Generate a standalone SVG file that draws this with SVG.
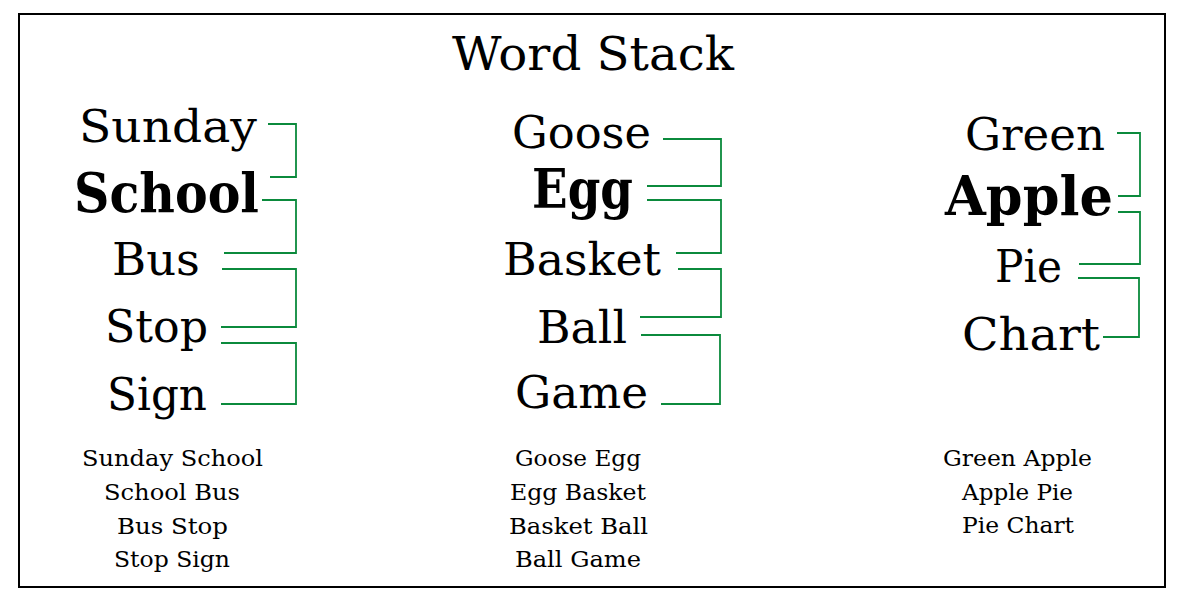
<svg xmlns="http://www.w3.org/2000/svg" width="1185" height="601" viewBox="0 0 1185 601">
<style>
text{font-family:"DejaVu Serif","Liberation Serif",serif;fill:#000}
.t{font-size:47px}
.w{font-size:45px}
.b{font-size:55px;font-weight:bold}
.s{font-size:22px}
.c{fill:none;stroke:#0b8a3c;stroke-width:1.8}
</style>
<rect x="19" y="14" width="1146" height="573" fill="#fff" stroke="#000" stroke-width="2"/>
<text class="t" x="452" y="70" textLength="282" lengthAdjust="spacingAndGlyphs">Word Stack</text>
<g id="col1">
<text class="w" x="79" y="142" textLength="178" lengthAdjust="spacingAndGlyphs">Sunday</text>
<text class="b" x="74" y="212" textLength="185" lengthAdjust="spacingAndGlyphs">School</text>
<text class="w" x="112" y="275" textLength="88" lengthAdjust="spacingAndGlyphs">Bus</text>
<text class="w" x="105" y="342" textLength="103" lengthAdjust="spacingAndGlyphs">Stop</text>
<text class="w" x="107" y="410" textLength="100" lengthAdjust="spacingAndGlyphs">Sign</text>
</g>
<g id="col2">
<text class="w" x="512" y="148" textLength="139" lengthAdjust="spacingAndGlyphs">Goose</text>
<text class="b" x="532" y="208" textLength="101" lengthAdjust="spacingAndGlyphs">Egg</text>
<text class="w" x="503" y="275" textLength="158" lengthAdjust="spacingAndGlyphs">Basket</text>
<text class="w" x="537" y="343" textLength="90" lengthAdjust="spacingAndGlyphs">Ball</text>
<text class="w" x="515" y="408" textLength="133" lengthAdjust="spacingAndGlyphs">Game</text>
</g>
<g id="col3">
<text class="w" x="965" y="150" textLength="140" lengthAdjust="spacingAndGlyphs">Green</text>
<text class="b" x="945" y="215" textLength="168" lengthAdjust="spacingAndGlyphs">Apple</text>
<text class="w" x="995" y="282" textLength="67" lengthAdjust="spacingAndGlyphs">Pie</text>
<text class="w" x="962" y="350" textLength="138" lengthAdjust="spacingAndGlyphs">Chart</text>
</g>
<g id="connectors">
<path class="c" d="M268,124 H296 V177 H270"/>
<path class="c" d="M262,200 H296 V253 H224"/>
<path class="c" d="M222,269 H296 V327 H221"/>
<path class="c" d="M221,343 H296 V404 H221"/>
<path class="c" d="M663,139 H721 V186 H647"/>
<path class="c" d="M647,200 H721 V253 H676"/>
<path class="c" d="M678,269 H721 V317 H640"/>
<path class="c" d="M641,335 H720 V404 H661"/>
<path class="c" d="M1117,133 H1140 V196 H1118"/>
<path class="c" d="M1118,212 H1140 V264 H1079"/>
<path class="c" d="M1078,278 H1139 V337 H1103"/>
</g>
<g id="phrases1">
<text class="s" x="82" y="466" textLength="181" lengthAdjust="spacingAndGlyphs">Sunday School</text>
<text class="s" x="104" y="500" textLength="136" lengthAdjust="spacingAndGlyphs">School Bus</text>
<text class="s" x="117" y="534" textLength="111" lengthAdjust="spacingAndGlyphs">Bus Stop</text>
<text class="s" x="114" y="567" textLength="116" lengthAdjust="spacingAndGlyphs">Stop Sign</text>
</g>
<g id="phrases2">
<text class="s" x="515" y="466" textLength="126" lengthAdjust="spacingAndGlyphs">Goose Egg</text>
<text class="s" x="510" y="500" textLength="136" lengthAdjust="spacingAndGlyphs">Egg Basket</text>
<text class="s" x="509" y="534" textLength="139" lengthAdjust="spacingAndGlyphs">Basket Ball</text>
<text class="s" x="515" y="567" textLength="126" lengthAdjust="spacingAndGlyphs">Ball Game</text>
</g>
<g id="phrases3">
<text class="s" x="943" y="466" textLength="149" lengthAdjust="spacingAndGlyphs">Green Apple</text>
<text class="s" x="962" y="500" textLength="111" lengthAdjust="spacingAndGlyphs">Apple Pie</text>
<text class="s" x="962" y="533" textLength="112" lengthAdjust="spacingAndGlyphs">Pie Chart</text>
</g>
</svg>
